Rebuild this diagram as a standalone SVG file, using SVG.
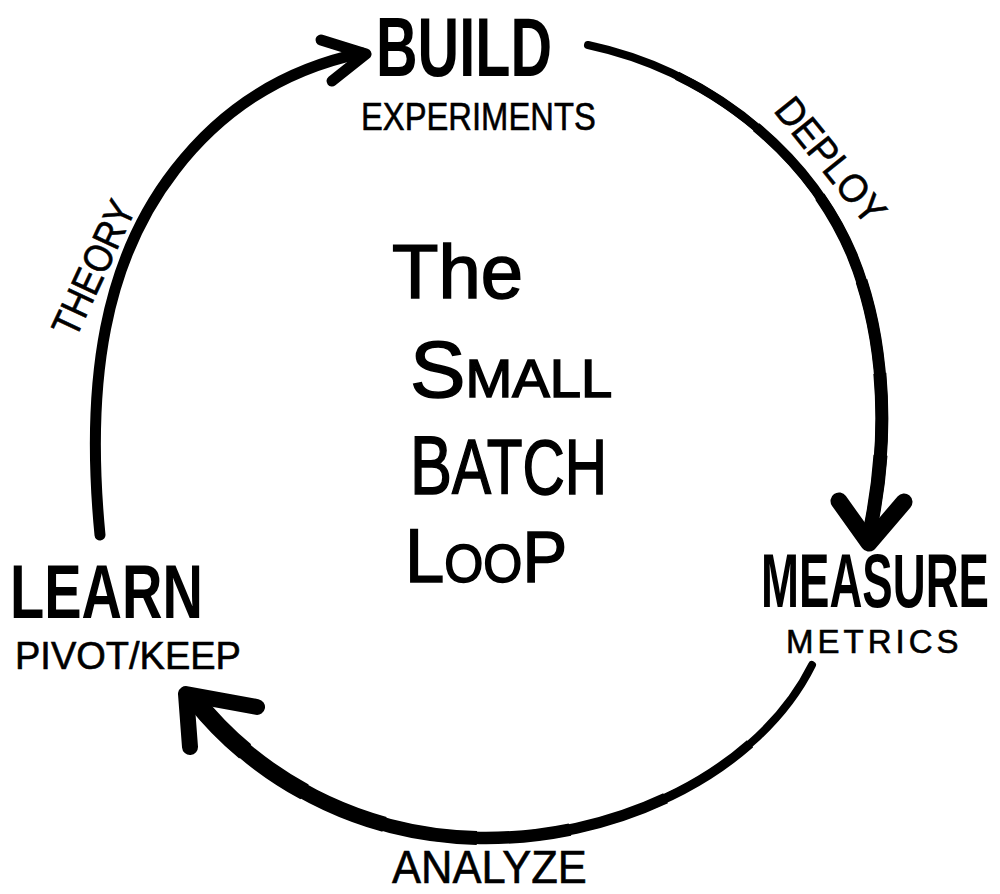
<svg xmlns="http://www.w3.org/2000/svg" width="1000" height="894" viewBox="0 0 1000 894">
  <style>
    .arc { fill: none; stroke: #000; stroke-linecap: round; stroke-linejoin: round; }
    .tap { fill: none; stroke: #000; stroke-linecap: butt; stroke-linejoin: round; }
    .t { font-family: "Liberation Sans", Arial, sans-serif; fill: #000; }
    .big { font-weight: 700; }
    .sub { font-weight: 400; stroke: #000; stroke-width: 0.6; }
    .mid { font-weight: 400; stroke: #000; stroke-width: 1.6; }
  </style>
  <rect width="1000" height="894" fill="#fff"/>

  <g id="connectors">
    <!-- Learn -> Build (theory) -->
    <g id="edge-theory">
      <path class="arc" stroke-width="11" d="M100,535 C85,380 105,260 175,170 C225,105 290,68 362,53"/>
      <path class="arc" stroke-width="11" d="M321,40 L366,54 L332,81"/>
    </g>
    <!-- Build -> Measure (deploy), tapering thicker toward the head -->
    <g id="edge-deploy">
      <path class="arc" stroke-width="8" d="M588,45 C705,70 808,150 852,255 C885,335 890,435 870,530"/>
      <path class="tap" stroke-width="9" pathLength="100" stroke-dasharray="85 15" stroke-dashoffset="85" d="M588,45 C705,70 808,150 852,255 C885,335 890,435 870,530"/>
      <path class="tap" stroke-width="10" pathLength="100" stroke-dasharray="70 30" stroke-dashoffset="70" d="M588,45 C705,70 808,150 852,255 C885,335 890,435 870,530"/>
      <path class="tap" stroke-width="11" pathLength="100" stroke-dasharray="55 45" stroke-dashoffset="55" d="M588,45 C705,70 808,150 852,255 C885,335 890,435 870,530"/>
      <path class="tap" stroke-width="12" pathLength="100" stroke-dasharray="40 60" stroke-dashoffset="40" d="M588,45 C705,70 808,150 852,255 C885,335 890,435 870,530"/>
      <path class="tap" stroke-width="13" pathLength="100" stroke-dasharray="25 75" stroke-dashoffset="25" d="M588,45 C705,70 808,150 852,255 C885,335 890,435 870,530"/>
      <path class="tap" stroke-width="14" pathLength="100" stroke-dasharray="12 88" stroke-dashoffset="12" d="M588,45 C705,70 808,150 852,255 C885,335 890,435 870,530"/>
      <path class="arc" stroke-width="17" d="M839,501 L869,543 L904,502"/>
    </g>
    <!-- Measure -> Learn (analyze), tapering thicker toward the head -->
    <g id="edge-analyze">
      <path class="arc" stroke-width="8" d="M812,665 C760,770 620,840 480,838 C350,836 250,770 195,700"/>
      <path class="tap" stroke-width="9.5" pathLength="100" stroke-dasharray="86 14" stroke-dashoffset="86" d="M812,665 C760,770 620,840 480,838 C350,836 250,770 195,700"/>
      <path class="tap" stroke-width="11" pathLength="100" stroke-dasharray="72 28" stroke-dashoffset="72" d="M812,665 C760,770 620,840 480,838 C350,836 250,770 195,700"/>
      <path class="tap" stroke-width="12.5" pathLength="100" stroke-dasharray="58 42" stroke-dashoffset="58" d="M812,665 C760,770 620,840 480,838 C350,836 250,770 195,700"/>
      <path class="tap" stroke-width="14" pathLength="100" stroke-dasharray="45 55" stroke-dashoffset="45" d="M812,665 C760,770 620,840 480,838 C350,836 250,770 195,700"/>
      <path class="tap" stroke-width="15.5" pathLength="100" stroke-dasharray="32 68" stroke-dashoffset="32" d="M812,665 C760,770 620,840 480,838 C350,836 250,770 195,700"/>
      <path class="tap" stroke-width="17" pathLength="100" stroke-dasharray="20 80" stroke-dashoffset="20" d="M812,665 C760,770 620,840 480,838 C350,836 250,770 195,700"/>
      <path class="tap" stroke-width="18.5" pathLength="100" stroke-dasharray="10 90" stroke-dashoffset="10" d="M812,665 C760,770 620,840 480,838 C350,836 250,770 195,700"/>
      <path class="arc" stroke-width="16" d="M257,707 L186,694 L190,747"/>
    </g>
  </g>

  <g id="connector-labels">
    <text class="t sub" font-size="40" text-anchor="middle" transform="translate(820,169) rotate(51) scale(0.925,1)">DEPLOY</text>
    <text class="t sub" font-size="40" text-anchor="middle" transform="translate(106,274) rotate(-65) scale(0.87,1)">THEORY</text>
    <text class="t sub" font-size="46" transform="translate(392,883) scale(0.945,1)">ANALYZE</text>
  </g>

  <g id="node-build">
    <text class="t big" font-size="84" transform="translate(376,76) scale(0.686,1)">BUILD</text>
    <text class="t sub" font-size="39" transform="translate(361,130) scale(0.84,1)">EXPERIMENTS</text>
  </g>

  <g id="node-measure">
    <text class="t big" font-size="76" transform="translate(761,607) scale(0.6,1)">MEASURE</text>
    <text class="t sub" font-size="33" letter-spacing="4" transform="translate(786,653)">METRICS</text>
  </g>

  <g id="node-learn">
    <text class="t big" font-size="76" transform="translate(10,618) scale(0.737,1)">LEARN</text>
    <text class="t sub" font-size="38" transform="translate(15,669)">PIVOT/KEEP</text>
  </g>

  <g id="title">
    <text class="t mid" font-size="76" transform="translate(392,298)">The</text>
    <text class="t mid" font-size="80" transform="translate(410,397) scale(1.04,1)">S<tspan font-size="54">MALL</tspan></text>
    <text class="t mid" font-size="84" transform="translate(410,494) scale(0.75,1)">B<tspan font-size="78">ATCH</tspan></text>
    <text class="t mid" font-size="76" transform="translate(405,582) scale(0.93,1)">L<tspan font-size="54">OO</tspan><tspan font-size="72">P</tspan></text>
  </g>
</svg>
